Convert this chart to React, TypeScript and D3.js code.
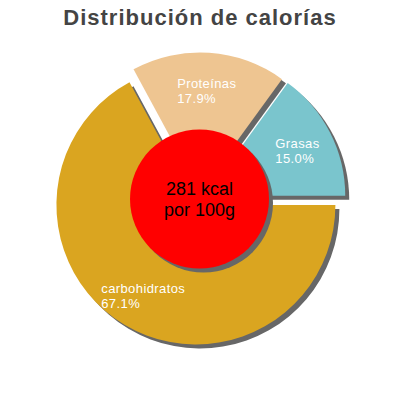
import React, { useEffect, useRef } from 'react';
import * as d3 from 'd3';

// Chart data
const categories = ['carbohidratos', 'Proteínas', 'Grasas'];
const percents = [67.1, 17.9, 15.0];
const sliceColors = ['#DAA520', '#EEC591', '#7AC5CD'];
const kcalPer100g = 281;
const chartTitle = 'Distribución de calorías';

const App: React.FC = () => {
  const svgRef = useRef<SVGSVGElement>(null);

  useEffect(() => {
    const svg = d3.select(svgRef.current);
    svg.selectAll('*').remove();

    const width = 400;
    const height = 400;
    const cx = 199.5;
    const cy = 199;
    const radius = 139.5;
    const innerCircle = 69.5;
    const explode = 7;
    const shadow = { x: 4, y: 4, color: '#676767' };
    const font = "'Liberation Sans', Arial, sans-serif";

    svg.attr('width', width).attr('height', height);

    // Title
    svg.append('text')
      .attr('x', width / 2)
      .attr('y', 25)
      .attr('text-anchor', 'middle')
      .style('font-family', font)
      .style('font-size', '22px')
      .style('font-weight', 'bold')
      .style('letter-spacing', '1px')
      .style('fill', '#444444')
      .text(chartTitle);

    const pie = d3.pie<number>()
      .sort(null)
      .startAngle(Math.PI / 2)
      .endAngle(Math.PI / 2 + 2 * Math.PI);
    const arcs = pie(percents);

    const arc = d3.arc<d3.PieArcDatum<number>>()
      .innerRadius(0)
      .outerRadius(radius);

    const offset = (d: d3.PieArcDatum<number>, dist: number) => {
      const mid = (d.startAngle + d.endAngle) / 2;
      return [Math.sin(mid) * dist, -Math.cos(mid) * dist];
    };

    const g = svg.append('g').attr('transform', `translate(${cx},${cy})`);

    // Shadows of the slices
    g.append('g')
      .selectAll('path')
      .data(arcs)
      .enter()
      .append('path')
      .attr('d', arc)
      .attr('transform', d => {
        const [dx, dy] = offset(d, explode);
        return `translate(${dx + shadow.x},${dy + shadow.y})`;
      })
      .style('fill', shadow.color);

    // Slices
    g.append('g')
      .selectAll('path')
      .data(arcs)
      .enter()
      .append('path')
      .attr('d', arc)
      .attr('transform', d => {
        const [dx, dy] = offset(d, explode);
        return `translate(${dx},${dy})`;
      })
      .style('fill', (_, i) => sliceColors[i]);

    // Center circle with shadow
    g.append('circle')
      .attr('cx', shadow.x)
      .attr('cy', shadow.y)
      .attr('r', innerCircle)
      .style('fill', shadow.color);
    g.append('circle')
      .attr('r', innerCircle)
      .style('fill', '#FF0000');

    g.append('text')
      .attr('y', -4)
      .attr('text-anchor', 'middle')
      .style('font-family', font)
      .style('font-size', '18px')
      .style('fill', '#000')
      .text(`${kcalPer100g} kcal`);
    g.append('text')
      .attr('y', 17)
      .attr('text-anchor', 'middle')
      .style('font-family', font)
      .style('font-size', '18px')
      .style('fill', '#000')
      .text('por 100g');

    // Slice labels: name centered on the bisector point, percent aligned to its left edge
    arcs.forEach((d, i) => {
      const [px, py] = offset(d, 110);
      const name = g.append('text')
        .attr('y', py - 1)
        .style('font-family', font)
        .style('font-size', '13px')
        .style('letter-spacing', '0.4px')
        .style('fill', '#ffffff')
        .text(categories[i]);
      const w = (name.node() as SVGTextElement).getComputedTextLength();
      const left = px - w / 2;
      name.attr('x', left);
      g.append('text')
        .attr('x', left)
        .attr('y', py + 14)
        .style('font-family', font)
        .style('font-size', '13px')
        .style('letter-spacing', '0.4px')
        .style('fill', '#ffffff')
        .text(`${d.data.toFixed(1)}%`);
    });
  }, []);

  return (
    <svg
      ref={svgRef}
      style={{ position: 'absolute', left: 0, top: 0, background: '#ffffff' }}
    ></svg>
  );
};

export default App;
